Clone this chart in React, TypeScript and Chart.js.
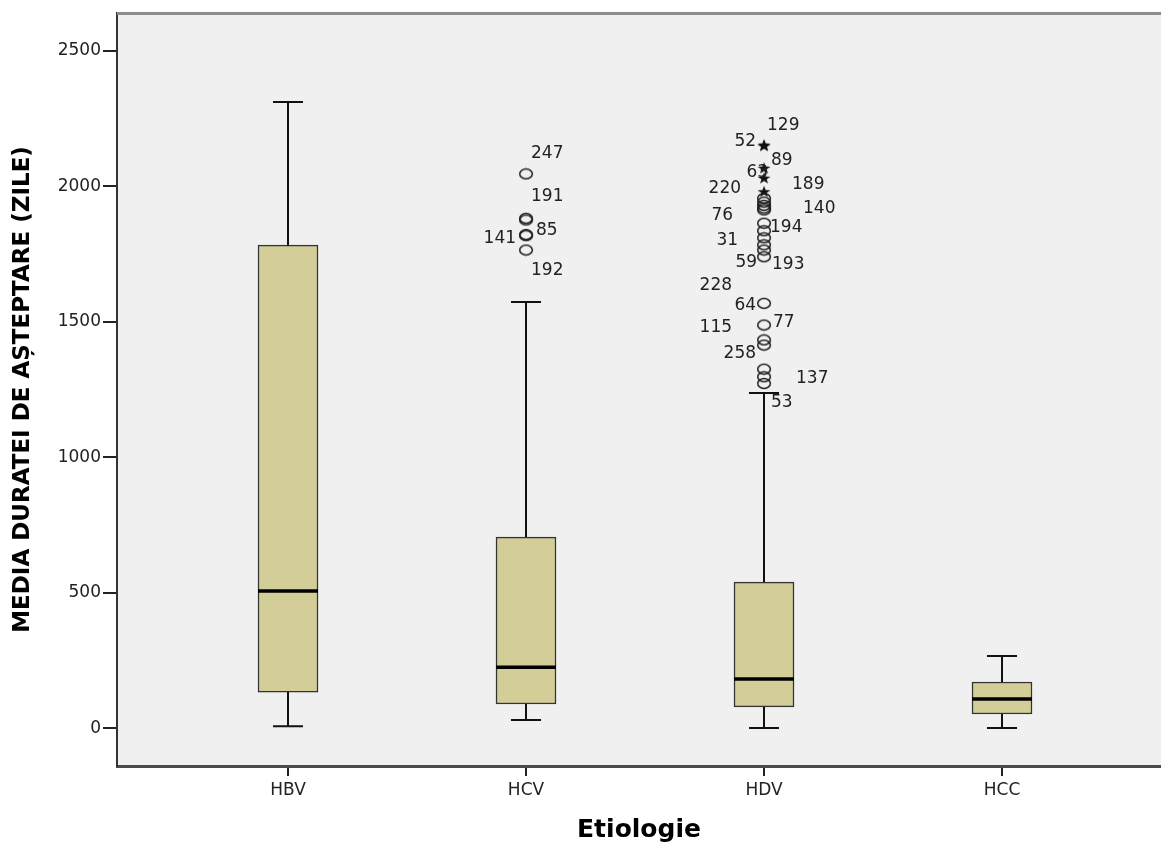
import React, { useEffect, useRef } from 'react';
import { Chart, registerables } from 'chart.js';

Chart.register(...registerables);

// Box plot summary per etiology group
const categories = ['HBV', 'HCV', 'HDV', 'HCC'];
const whiskerLow = [7, 30, 0, 0];
const quartile1 = [133, 89, 78, 52];
const medians = [506, 225, 181, 107];
const quartile3 = [1783, 705, 539, 170];
const whiskerHigh = [2311, 1573, 1237, 266];

// Outliers (circles) and extreme values (stars)
const hcvOutliers = [2046, 1882, 1876, 1822, 1818, 1765];
const hdvExtremes = [2152, 2149, 2067, 2030, 1980];
const hdvOutliers = [
  1956, 1942, 1930, 1920, 1913, 1864, 1836, 1810, 1784, 1765, 1740,
  1568, 1488, 1433, 1414, 1325, 1297, 1272,
];

const yTicks = [0, 500, 1000, 1500, 2000, 2500];

// Case-number labels: text, group position, value level, pixel offset, alignment
const caseLabels: [string, number, number, number, 'l' | 'r'][] = [
  ['247', 2, 2120, 5, 'l'],
  ['191', 2, 1961, 5, 'l'],
  ['85', 2, 1835, 10, 'l'],
  ['141', 2, 1809, -10, 'r'],
  ['192', 2, 1688, 5, 'l'],
  ['129', 3, 2223, 3, 'l'],
  ['52', 3, 2164, -8, 'r'],
  ['89', 3, 2094, 7, 'l'],
  ['63', 3, 2050, 4, 'r'],
  ['220', 3, 1990, -23, 'r'],
  ['189', 3, 2005, 28, 'l'],
  ['76', 3, 1891, -31, 'r'],
  ['140', 3, 1917, 39, 'l'],
  ['194', 3, 1846, 6, 'l'],
  ['31', 3, 1798, -26, 'r'],
  ['59', 3, 1717, -7, 'r'],
  ['193', 3, 1713, 8, 'l'],
  ['228', 3, 1632, -32, 'r'],
  ['64', 3, 1558, -8, 'r'],
  ['115', 3, 1477, -32, 'r'],
  ['77', 3, 1496, 9, 'l'],
  ['258', 3, 1381, -8, 'r'],
  ['137', 3, 1292, 32, 'l'],
  ['53', 3, 1200, 7, 'l'],
];

const BOX_HALF = 0.126;
const CAP_HALF = 0.063;
const FONT = 'DejaVu Sans';

function makeCircleMarker(): HTMLCanvasElement {
  const c = document.createElement('canvas');
  c.width = 16;
  c.height = 13;
  const g = c.getContext('2d')!;
  g.strokeStyle = '#1e1e1e';
  g.lineWidth = 1.5;
  g.beginPath();
  g.ellipse(8, 6.5, 6.3, 4.9, 0, 0, Math.PI * 2);
  g.stroke();
  return c;
}

function makeStarMarker(): HTMLCanvasElement {
  const c = document.createElement('canvas');
  c.width = 14;
  c.height = 13;
  const g = c.getContext('2d')!;
  g.fillStyle = '#111';
  g.beginPath();
  const cx = 7, cy = 6.8, ro = 6.2, ri = 2.5;
  for (let k = 0; k < 10; k++) {
    const r = k % 2 === 0 ? ro : ri;
    const a = -Math.PI / 2 + (k * Math.PI) / 5;
    const px = cx + r * Math.cos(a) * 1.1;
    const py = cy + r * Math.sin(a);
    if (k === 0) g.moveTo(px, py);
    else g.lineTo(px, py);
  }
  g.closePath();
  g.fill();
  return c;
}

const chartDecor = {
  id: 'chartDecor',
  beforeDraw(chart: any) {
    const { ctx, chartArea } = chart;
    ctx.save();
    ctx.fillStyle = '#F0F0F0';
    ctx.fillRect(chartArea.left, chartArea.top, chartArea.right - chartArea.left, chartArea.bottom - chartArea.top);
    ctx.restore();
  },
  afterDraw(chart: any) {
    const { ctx, chartArea, scales } = chart;
    ctx.save();
    // top frame line
    ctx.strokeStyle = '#8c8c8c';
    ctx.lineWidth = 3;
    ctx.beginPath();
    ctx.moveTo(chartArea.left, chartArea.top + 0.5);
    ctx.lineTo(chartArea.right, chartArea.top + 0.5);
    ctx.stroke();
    // case labels
    ctx.fillStyle = '#222';
    ctx.font = `17px "${FONT}"`;
    ctx.textBaseline = 'middle';
    for (const [text, pos, value, dx, align] of caseLabels) {
      const x = scales.x.getPixelForValue(pos) + dx;
      const y = scales.y.getPixelForValue(value);
      ctx.textAlign = align === 'l' ? 'left' : 'right';
      ctx.fillText(text, x, y);
    }
    ctx.restore();
  },
};

export default function App() {
  const canvasRef = useRef<HTMLCanvasElement | null>(null);

  useEffect(() => {
    if (!canvasRef.current) return;
    Chart.defaults.font.family = FONT;

    const circle = makeCircleMarker();
    const star = makeStarMarker();

    const boxes = categories.map((_, i) => ({ x: i + 1, y: [quartile1[i], quartile3[i]] }));

    const whiskers: any[] = [];
    categories.forEach((_, i) => {
      const x = i + 1;
      whiskers.push({ x, y: quartile3[i] }, { x, y: whiskerHigh[i] }, { x, y: null });
      whiskers.push({ x: x - CAP_HALF, y: whiskerHigh[i] }, { x: x + CAP_HALF, y: whiskerHigh[i] }, { x, y: null });
      whiskers.push({ x, y: quartile1[i] }, { x, y: whiskerLow[i] }, { x, y: null });
      whiskers.push({ x: x - CAP_HALF, y: whiskerLow[i] }, { x: x + CAP_HALF, y: whiskerLow[i] }, { x, y: null });
    });

    const medianLines: any[] = [];
    categories.forEach((_, i) => {
      const x = i + 1;
      medianLines.push({ x: x - BOX_HALF, y: medians[i] }, { x: x + BOX_HALF, y: medians[i] }, { x, y: null });
    });

    const outlierPoints = [
      ...hcvOutliers.map((v) => ({ x: 2, y: v })),
      ...hdvOutliers.map((v) => ({ x: 3, y: v })),
    ];
    const extremePoints = hdvExtremes.map((v) => ({ x: 3, y: v }));

    const chart = new Chart(canvasRef.current, {
      type: 'bar',
      data: {
        datasets: [
          {
            type: 'bar',
            data: boxes as any,
            backgroundColor: '#D3CE97',
            borderColor: '#333',
            borderWidth: 1.5,
            borderSkipped: false,
            barThickness: 60,
            grouped: false,
            order: 5,
          } as any,
          {
            type: 'line',
            data: whiskers,
            borderColor: '#111',
            borderWidth: 2,
            pointRadius: 0,
            spanGaps: false,
            fill: false,
            order: 4,
          } as any,
          {
            type: 'line',
            data: medianLines,
            borderColor: '#000',
            borderWidth: 3.5,
            pointRadius: 0,
            spanGaps: false,
            fill: false,
            order: 1,
          } as any,
          {
            type: 'line',
            data: outlierPoints,
            showLine: false,
            pointStyle: circle,
            pointRadius: 6,
            order: 0,
          } as any,
          {
            type: 'line',
            data: extremePoints,
            showLine: false,
            pointStyle: star,
            pointRadius: 6,
            order: 0,
          } as any,
        ],
      },
      options: {
        responsive: false,
        animation: false,
        events: [],
        layout: { autoPadding: false, padding: { top: 13, left: 0, right: 0, bottom: 0 } },
        plugins: {
          legend: { display: false },
          tooltip: { enabled: false },
        },
        scales: {
          x: {
            type: 'linear',
            offset: false,
            min: 0.2815,
            max: 4.668,
            afterBuildTicks: (scale: any) => {
              scale.ticks = categories.map((_, i) => ({ value: i + 1 }));
            },
            afterFit: (scale: any) => {
              scale.height = 79;
              scale.paddingLeft = 0;
              scale.paddingRight = 0;
            },
            ticks: {
              callback: (v: any) => categories[Number(v) - 1] ?? '',
              color: '#222',
              font: { size: 17 },
              padding: 4,
              maxRotation: 0,
              autoSkip: false,
            },
            grid: {
              offset: false,
              drawOnChartArea: false,
              drawTicks: true,
              tickLength: 10,
              tickColor: '#222',
              lineWidth: 2,
            },
            border: { display: true, color: '#4a4a4a', width: 3 },
            title: {
              display: true,
              text: 'Etiologie',
              color: '#000',
              font: { size: 25, weight: 'bold' },
              padding: { top: 0, bottom: 0 },
            },
          },
          y: {
            type: 'linear',
            min: -140,
            max: 2640,
            afterBuildTicks: (scale: any) => {
              scale.ticks = yTicks.map((v) => ({ value: v }));
            },
            afterFit: (scale: any) => {
              scale.width = 117;
            },
            ticks: {
              callback: (v: any) => String(v),
              color: '#222',
              font: { size: 17 },
              padding: 2,
            },
            grid: {
              drawOnChartArea: false,
              drawTicks: true,
              tickLength: 14,
              tickColor: '#222',
              lineWidth: 2,
            },
            border: { display: true, color: '#333', width: 2 },
            title: {
              display: true,
              text: 'MEDIA DURATEI DE AȘTEPTARE (ZILE)',
              color: '#000',
              font: { size: 23, weight: 'bold' },
              padding: { top: 9, bottom: 0 },
            },
          },
        },
      } as any,
      plugins: [chartDecor],
    });

    return () => chart.destroy();
  }, []);

  return (
    <div style={{ position: 'absolute', left: 0, top: 0, width: 1161, height: 845, background: '#fff' }}>
      <canvas ref={canvasRef} width={1161} height={845} style={{ display: 'block' }} />
    </div>
  );
}
